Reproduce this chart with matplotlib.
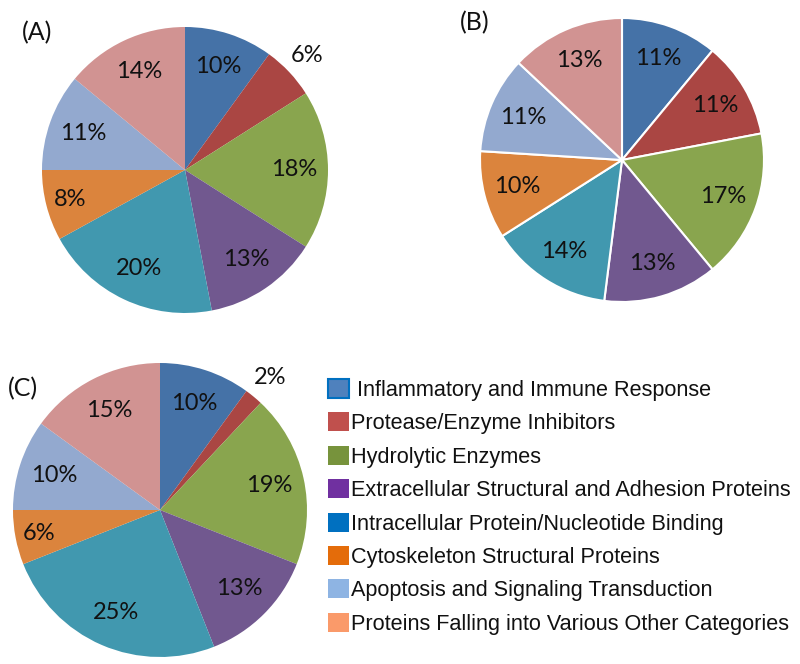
import matplotlib
matplotlib.use("Agg")
import matplotlib.pyplot as plt
from matplotlib.patches import Patch

categories = [
    " Inflammatory and Immune Response",
    "Protease/Enzyme Inhibitors",
    "Hydrolytic Enzymes",
    "Extracellular Structural and Adhesion Proteins",
    "Intracellular Protein/Nucleotide Binding",
    "Cytoskeleton Structural Proteins",
    "Apoptosis and Signaling Transduction",
    "Proteins Falling into Various Other Categories",
]
values_A = [10, 6, 18, 13, 20, 8, 11, 14]
values_B = [11, 11, 17, 13, 14, 10, 11, 13]
values_C = [10, 2, 19, 13, 25, 6, 10, 15]
panel_labels = ["(A)", "(B)", "(C)"]

pie_colors = ["#4572A7", "#AA4643", "#89A54E", "#71588F",
              "#4198AF", "#DB843D", "#93A9CF", "#D19392"]
legend_colors = ["#4F81BD", "#C0504D", "#77933C", "#7030A0",
                 "#0070C0", "#E46C0A", "#8EB4E3", "#FA9A6A"]
legend_edges = ["#0070C0"] + legend_colors[1:]

W, H = 800, 664
fig = plt.figure(figsize=(W / 100, H / 100), dpi=100)
ax = fig.add_axes([0, 0, 1, 1])

pct_font = dict(family=["Lato", "DejaVu Sans"], size=17, color="#111111")

def draw(values, cx, cy, r, edge, label_dist):
    wedges, texts, autotexts = ax.pie(
        values, colors=pie_colors, startangle=90, counterclock=False,
        center=(cx, H - cy), radius=r, autopct="%d%%", pctdistance=0.76,
        wedgeprops=dict(edgecolor="white" if edge else "none",
                        linewidth=1.5 if edge else 0),
        textprops=pct_font)
    for i, (v, t) in enumerate(zip(values, autotexts)):
        t.set_text(f"{v}%")
        if i in label_dist:
            x, y = t.get_position()
            dx, dy = x - cx, y - (H - cy)
            f = label_dist[i] / 0.76
            t.set_position((cx + dx * f, (H - cy) + dy * f))
    return wedges

draw(values_A, 185, 170, 143, False, {1: 1.17, 5: 0.83})
draw(values_B, 622, 160, 142, True, {})
draw(values_C, 160, 510, 147, False, {1: 1.17, 5: 0.84})

label_font = dict(family=["Lato", "DejaVu Sans"], size=18, color="#111111",
                  ha="center", va="center")
ax.text(37, H - 33, panel_labels[0], **label_font)
ax.text(475, H - 23, panel_labels[1], **label_font)
ax.text(23, H - 389, panel_labels[2], **label_font)

ax.set_xlim(0, W)
ax.set_ylim(0, H)
ax.set_aspect("equal")
ax.axis("off")

handles = [Patch(facecolor=c, edgecolor=e, linewidth=1.5 if i == 0 else 0)
           for i, (c, e) in enumerate(zip(legend_colors, legend_edges))]
leg = fig.legend(handles, categories, loc="upper left",
                 bbox_to_anchor=(328 / W, 1 - 379 / H),
                 frameon=False, borderpad=0, borderaxespad=0,
                 handlelength=0.97, handleheight=0.97, handletextpad=0.1,
                 labelspacing=0.53,
                 prop=dict(family="Liberation Sans", size=15.6))
for t in leg.get_texts():
    t.set_color("#111111")

fig.savefig("out.png", dpi=100)
